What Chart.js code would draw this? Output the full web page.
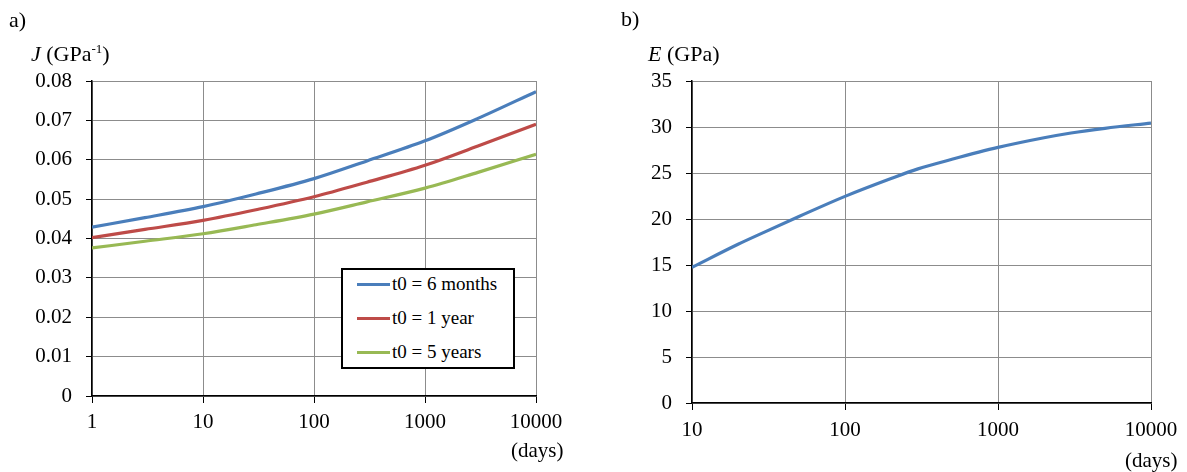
<!DOCTYPE html>
<html>
<head>
<meta charset="utf-8">
<script src="https://cdn.jsdelivr.net/npm/chart.js@4.4.1/dist/chart.umd.min.js"></script>
<style>
  html, body { margin: 0; padding: 0; background: #fff; }
  body { width: 1187px; height: 472px; position: relative; overflow: hidden; font-family: "Liberation Serif", "Times New Roman", serif; color: #000; }
  canvas { position: absolute; top: 0; }
  .lbl { position: absolute; line-height: 1; white-space: nowrap; }
  .t22 { font-size: 22px; }
  .t21 { font-size: 21px; }
  sup { font-size: 13px; vertical-align: 0; position: relative; top: -8px; }
  #legend { position: absolute; left: 341px; top: 268px; width: 170px; height: 97px; border: 2px solid #000; background: #fff; }
  .row { position: absolute; left: 14px; height: 20px; display: flex; align-items: center; font-size: 19px; }
  .swatch { width: 33px; height: 3px; margin-right: 2px; }
</style>
</head>
<body>
<canvas id="chartA" width="600" height="472" style="left:0;width:600px;height:472px"></canvas>
<canvas id="chartB" width="587" height="472" style="left:600px;width:587px;height:472px"></canvas>

<div class="lbl t22" style="left:9px;top:9px">a)</div>
<div class="lbl t22" style="left:31px;top:43px"><i>J</i> (GPa<sup>-1</sup>)</div>
<div class="lbl t21" style="left:511px;top:440px">(days)</div>

<div class="lbl t22" style="left:621px;top:8px">b)</div>
<div class="lbl t22" style="left:648px;top:43px"><i>E</i> (GPa)</div>
<div class="lbl t21" style="left:1125px;top:450px">(days)</div>

<div id="legend"></div>

<script>
// ---------- data (panel a) ----------
const daysA = [1, 3, 10, 30, 100, 300, 1000, 3000, 10000];
const jSixMonths = [0.0429, 0.0453, 0.0481, 0.0513, 0.0552, 0.0597, 0.0648, 0.0705, 0.0773];
const jOneYear   = [0.0402, 0.0423, 0.0446, 0.0473, 0.0506, 0.0543, 0.0586, 0.0635, 0.0690];
const jFiveYears = [0.0376, 0.0393, 0.0412, 0.0435, 0.0462, 0.0493, 0.0528, 0.0568, 0.0614];
const seriesNamesA = ["t0 = 6 months", "t0 = 1 year", "t0 = 5 years"];
const xTicksA = [1, 10, 100, 1000, 10000];
const yTicksA = [0, 0.01, 0.02, 0.03, 0.04, 0.05, 0.06, 0.07, 0.08];

// ---------- data (panel b) ----------
const daysB = [10, 20, 30, 50, 100, 200, 300, 500, 1000, 2000, 3000, 5000, 10000];
const eModulus = [14.74, 17.25, 18.6, 20.27, 22.46, 24.4, 25.45, 26.49, 27.78, 28.83, 29.35, 29.86, 30.43];
const xTicksB = [10, 100, 1000, 10000];
const yTicksB = [0, 5, 10, 15, 20, 25, 30, 35];

const colors = ["#4a7ebb", "#be4b48", "#98b954"];
const FONT = { family: "'Liberation Serif', 'Times New Roman', serif", size: 21 };
const GRID = "#8c8c8c";

function pts(xs, ys) { return xs.map((x, i) => ({ x: x, y: ys[i] })); }

function makeOptions(xTicks, yTicks, yWidth, xHeight, padRight, yFmt, xPad) {
  return {
    responsive: false,
    animation: false,
    devicePixelRatio: 1,
    layout: { padding: { left: 0, top: 81, right: padRight, bottom: 0 } },
    plugins: { legend: { display: false }, tooltip: { enabled: false } },
    elements: { point: { radius: 0 } },
    scales: {
      x: {
        type: 'logarithmic',
        min: xTicks[0], max: xTicks[xTicks.length - 1],
        afterBuildTicks: s => { s.ticks = xTicks.map(v => ({ value: v })); },
        afterFit: s => { s.height = xHeight; },
        grid: { color: GRID, lineWidth: 1, tickColor: "#000", tickLength: 7, drawTicks: true },
        border: { color: "#000", width: 1.5 },
        ticks: { color: "#000", font: FONT, padding: xPad, maxRotation: 0, autoSkip: false, callback: v => String(v) }
      },
      y: {
        type: 'linear',
        min: yTicks[0], max: yTicks[yTicks.length - 1],
        afterBuildTicks: s => { s.ticks = yTicks.map(v => ({ value: v })); },
        afterFit: s => { s.width = yWidth; },
        grid: { color: GRID, lineWidth: 1, tickColor: "#000", tickLength: 6, drawTicks: true },
        border: { color: "#000", width: 1.5 },
        ticks: { color: "#000", font: FONT, padding: 14, callback: yFmt }
      }
    }
  };
}

new Chart(document.getElementById('chartA'), {
  type: 'line',
  data: {
    datasets: [jSixMonths, jOneYear, jFiveYears].map((ys, i) => ({
      label: seriesNamesA[i],
      data: pts(daysA, ys),
      borderColor: colors[i],
      borderWidth: 3.2,
      cubicInterpolationMode: 'monotone',
      fill: false
    }))
  },
  options: makeOptions(xTicksA, yTicksA, 92, 76, 64, v => v === 0 ? "0" : Number(v).toFixed(2), 7)
});

new Chart(document.getElementById('chartB'), {
  type: 'line',
  data: {
    datasets: [{
      label: "E",
      data: pts(daysB, eModulus),
      borderColor: colors[0],
      borderWidth: 3.2,
      cubicInterpolationMode: 'monotone',
      fill: false
    }]
  },
  options: makeOptions(xTicksB, yTicksB, 92, 69, 36, v => String(v), 8)
});

// legend built from the series names/colours
const leg = document.getElementById('legend');
const rowTops = [4, 38, 72];
seriesNamesA.forEach((name, i) => {
  const r = document.createElement('div');
  r.className = 'row';
  r.style.top = rowTops[i] + 'px';
  const sw = document.createElement('span');
  sw.className = 'swatch';
  sw.style.background = colors[i];
  const tx = document.createElement('span');
  tx.textContent = name;
  r.appendChild(sw); r.appendChild(tx);
  leg.appendChild(r);
});
</script>
</body>
</html>
